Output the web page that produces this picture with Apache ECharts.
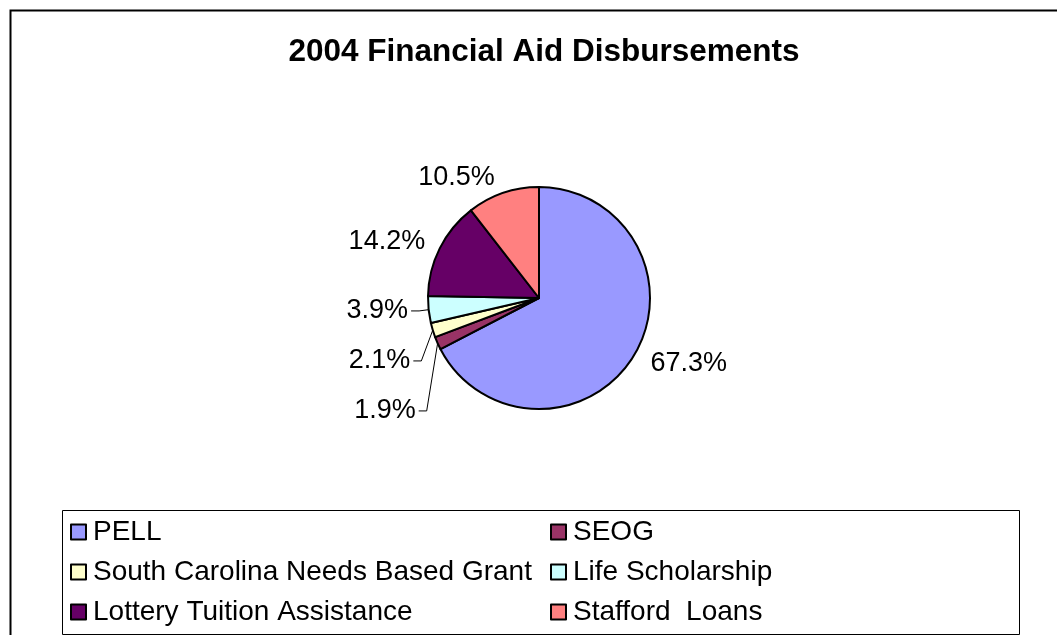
<!DOCTYPE html>
<html>
<head>
<meta charset="utf-8">
<script src="https://cdn.jsdelivr.net/npm/echarts@6/dist/echarts.min.js"></script>
<style>
html,body{margin:0;padding:0;background:#fff;}
#chart{width:1057px;height:635px;}
</style>
</head>
<body>
<div id="chart"></div>
<script>
const TITLE = '2004 Financial Aid Disbursements';
const categories = ['PELL', 'SEOG', 'South Carolina Needs Based Grant', 'Life Scholarship', 'Lottery Tuition Assistance', 'Stafford  Loans'];
const values = [67.3, 1.9, 2.1, 3.9, 14.2, 10.5];
const colors = ['#9999FF', '#993366', '#FFFFCC', '#CCFFFF', '#660066', '#FF8080'];
const smallSlices = ['SEOG', 'South Carolina Needs Based Grant', 'Life Scholarship'];

const FONT = '"Liberation Sans", Arial, sans-serif';

const data = categories.map((name, i) => {
  const small = smallSlices.includes(name);
  return {
    name: name,
    value: values[i],
    itemStyle: { color: colors[i] },
    label: small ? { lineHeight: 48 } : {},
    labelLine: { show: small, length: small ? 12 : 16, length2: small ? 8 : 0 }
  };
});

const chart = echarts.init(document.getElementById('chart'), null, { renderer: 'canvas' });
chart.setOption({
  backgroundColor: '#fff',
  animation: false,
  title: {
    text: TITLE,
    left: 539,
    top: 29,
    textAlign: 'center',
    textStyle: { fontFamily: FONT, fontSize: 31.5, fontWeight: 'bold', color: '#000', lineHeight: 36 }
  },
  graphic: [
    { type: 'rect', left: 8, top: 8, shape: { width: 1070, height: 650 }, style: { fill: 'none', stroke: '#000', lineWidth: 2 }, silent: true },
    { type: 'rect', left: 60, top: 508, shape: { width: 957, height: 124 }, style: { fill: 'none', stroke: '#000', lineWidth: 1 }, silent: true }
  ],
  legend: {
    data: categories,
    orient: 'horizontal',
    left: 70,
    top: 517,
    width: 960,
    padding: 0,
    itemGap: 10,
    itemWidth: 15,
    itemHeight: 15,
    icon: 'rect',
    itemStyle: { borderColor: '#000', borderWidth: 2 },
    textStyle: { fontFamily: FONT, fontSize: 28, color: '#000', width: 447, lineHeight: 30, padding: [0, 0, 0, 2] },
    selectedMode: false
  },
  series: [{
    type: 'pie',
    center: [539, 298],
    radius: 111,
    startAngle: 90,
    clockwise: true,
    avoidLabelOverlap: true,
    data: data,
    itemStyle: { borderColor: '#000', borderWidth: 2 },
    label: {
      show: true,
      position: 'outside',
      formatter: p => p.value.toFixed(1) + '%',
      fontFamily: FONT,
      fontSize: 27,
      color: '#000',
      distanceToLabelLine: 3
    },
    labelLine: { lineStyle: { color: '#000', width: 1 } },
    emphasis: { disabled: true }
  }]
});
</script>
</body>
</html>
